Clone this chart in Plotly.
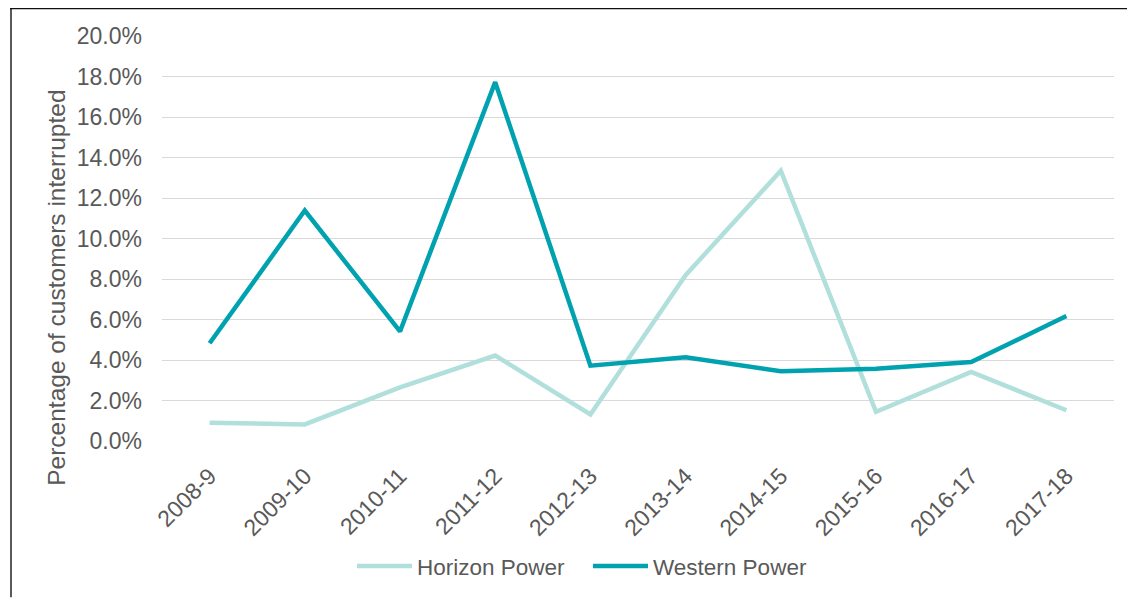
import plotly.graph_objects as go

years = ["2008-9", "2009-10", "2010-11", "2011-12", "2012-13",
         "2013-14", "2014-15", "2015-16", "2016-17", "2017-18"]
horizon = [0.90, 0.82, 2.65, 4.22, 1.31, 8.19, 13.35, 1.44, 3.41, 1.52]
western = [4.83, 11.38, 5.41, 17.72, 3.72, 4.14, 3.44, 3.57, 3.90, 6.17]
y_ticks = [0, 2, 4, 6, 8, 10, 12, 14, 16, 18, 20]
y_tick_labels = [f"{v:.1f}%" for v in y_ticks]
y_title = "Percentage of customers interrupted"

TEXT = "#595959"
FONT = "Liberation Sans, Arial, sans-serif"

fig = go.Figure()
fig.add_trace(go.Scatter(x=years, y=horizon, mode="lines", name="Horizon Power",
                         line=dict(color="#B1E0DC", width=4.5)))
fig.add_trace(go.Scatter(x=years, y=western, mode="lines", name="Western Power",
                         line=dict(color="#00A2B0", width=4.5)))

# page body has an 8px margin; figure coordinates = screen coordinates - 8
OFF = 8
W, H = 1135 - OFF, 600 - OFF
L, R, T, B = 162 - OFF, 1135 - 1114, 36 - OFF, 600 - 443
pw, ph = W - L - R, H - T - B

def px(xs):
    return (xs - OFF - L) / pw

def py(ys):
    return (H - B - (ys - OFF)) / ph

fig.update_layout(
    width=W, height=H,
    margin=dict(l=L, r=R, t=T, b=B, pad=0),
    paper_bgcolor="white", plot_bgcolor="white",
    font=dict(family=FONT, color=TEXT, size=22),
    showlegend=True,
    legend=dict(orientation="h", x=px(352), xanchor="left", y=py(569), yanchor="middle",
                font=dict(size=22.5, color=TEXT), traceorder="normal",
                itemwidth=55, entrywidth=166, entrywidthmode="pixels",
                bgcolor="rgba(0,0,0,0)"),
    xaxis=dict(type="category", range=[-0.5, len(years) - 0.5], tickangle=-45,
               showgrid=False, zeroline=False, showline=False, ticks="",
               ticklabelstandoff=16, tickfont=dict(size=23, color=TEXT)),
    yaxis=dict(range=[0, 20], tickvals=y_ticks, ticktext=y_tick_labels,
               showgrid=True, gridcolor="#D9D9D9", gridwidth=1.3, zeroline=False,
               showline=False, ticks="", ticklabelstandoff=19,
               tickfont=dict(size=23, color=TEXT)),
    annotations=[
        dict(text=y_title, textangle=-90, xref="paper", yref="paper",
             x=px(57), y=py(289), xanchor="center", yanchor="middle",
             showarrow=False, font=dict(size=24.5, color=TEXT)),
    ],
    shapes=[
        dict(type="line", xref="paper", yref="paper", x0=px(11), x1=px(11),
             y0=py(600), y1=py(8), line=dict(color="#595959", width=2)),
        dict(type="line", xref="paper", yref="paper", x0=px(10), x1=px(1135),
             y0=py(8), y1=py(8), line=dict(color="#111111", width=2)),
    ],
)

fig.write_html("out.html")
